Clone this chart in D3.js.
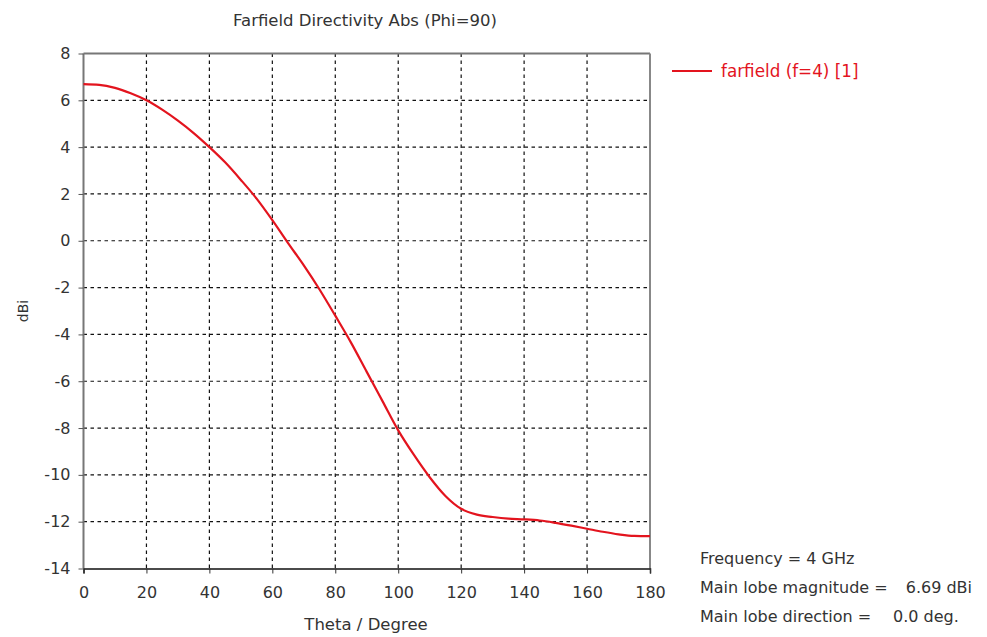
<!DOCTYPE html>
<html>
<head>
<meta charset="utf-8">
<script src="https://cdn.jsdelivr.net/npm/d3@7"></script>
<style>
  html, body { margin: 0; padding: 0; background: #fff; }
  svg { display: block; }
  text { font-family: "DejaVu Sans", sans-serif; fill: #333; }
</style>
</head>
<body>
<svg id="chart" width="987" height="637"></svg>
<script>
// Farfield directivity cut at Phi = 90, f = 4 GHz
const theta = [0, 5, 10, 15, 20, 25, 30, 35, 40, 45, 50, 55, 60, 65, 70, 75, 80, 85, 90,
               95, 100, 105, 110, 115, 120, 125, 130, 135, 140, 145, 150, 155, 160, 165, 170, 175, 180];
const directivity = [6.69, 6.66, 6.53, 6.3, 6.0, 5.6, 5.13, 4.6, 4.0, 3.35, 2.6, 1.8, 0.88, -0.1, -1.05,
                     -2.08, -3.2, -4.35, -5.6, -6.85, -8.1, -9.15, -10.1, -10.9, -11.45, -11.7, -11.8,
                     -11.87, -11.9, -11.95, -12.05, -12.17, -12.3, -12.43, -12.54, -12.61, -12.62];
const xTicks = [0, 20, 40, 60, 80, 100, 120, 140, 160, 180];
const yTicks = [8, 6, 4, 2, 0, -2, -4, -6, -8, -10, -12, -14];
const seriesName = "farfield (f=4) [1]";
const infoLines = [
  ["Frequency = 4 GHz", ""],
  ["Main lobe magnitude =", "6.69 dBi"],
  ["Main lobe direction =", "0.0 deg."]
];

(function draw() {
  const svg = d3.select("#chart");
  const pl = 83.5, pr = 650, pt = 53.5, pb = 568.5;
  const x = d3.scaleLinear().domain([0, 180]).range([pl, pr]);
  const y = d3.scaleLinear().domain([-14, 8]).range([pb, pt]);
  const red = "#e3141e";
  const plain = d => String(d);   // hyphen-minus labels

  // title
  svg.append("text").attr("x", 365).attr("y", 26).attr("text-anchor", "middle")
    .style("font-size", "16.5px").text("Farfield Directivity Abs (Phi=90)");

  // dashed grid
  const grid = svg.append("g").attr("stroke", "#111").attr("stroke-width", 1.2)
    .attr("stroke-dasharray", "3.5,3.5");
  grid.selectAll("line.v").data(xTicks.filter(d => d > 0 && d < 180)).join("line").attr("class", "v")
    .attr("x1", d => x(d)).attr("x2", d => x(d)).attr("y1", pt).attr("y2", pb);
  grid.selectAll("line.h").data(yTicks.filter(d => d > -14 && d < 8)).join("line").attr("class", "h")
    .attr("x1", pl).attr("x2", pr).attr("y1", d => y(d)).attr("y2", d => y(d));

  // frame
  svg.append("line").attr("x1", pl).attr("x2", pr).attr("y1", pt).attr("y2", pt)
    .attr("stroke", "#777").attr("stroke-width", 2);
  svg.append("line").attr("x1", pr).attr("x2", pr).attr("y1", pt).attr("y2", pb)
    .attr("stroke", "#888").attr("stroke-width", 2);
  svg.append("line").attr("x1", pl).attr("x2", pl).attr("y1", pt).attr("y2", pb)
    .attr("stroke", "#777").attr("stroke-width", 2);

  // axes
  const xAxis = d3.axisBottom(x).tickValues(xTicks).tickFormat(plain).tickSize(5).tickPadding(13);
  const gx = svg.append("g").attr("transform", `translate(0,${pb})`).call(xAxis);
  gx.select(".domain").attr("stroke", "#111").attr("stroke-width", 1.5);
  gx.selectAll(".tick line").attr("stroke", "#333");
  gx.selectAll(".tick text").style("font-size", "16px").style("font-family", "DejaVu Sans").attr("fill", "#333");

  const yAxis = d3.axisLeft(y).tickValues(yTicks).tickFormat(plain).tickSize(5).tickPadding(8);
  const gy = svg.append("g").attr("transform", `translate(${pl},0)`).call(yAxis);
  gy.select(".domain").remove();
  gy.selectAll(".tick line").attr("stroke", "#555");
  gy.selectAll(".tick text").style("font-size", "16px").style("font-family", "DejaVu Sans").attr("fill", "#333");

  // axis titles
  svg.append("text").attr("x", 366).attr("y", 630).attr("text-anchor", "middle")
    .style("font-size", "16.5px").text("Theta / Degree");
  svg.append("text").attr("transform", "translate(28,311) rotate(-90)").attr("text-anchor", "middle")
    .style("font-size", "14px").text("dBi");

  // curve
  const line = d3.line().x((d, i) => x(theta[i])).y(d => y(d)).curve(d3.curveMonotoneX);
  svg.append("path").datum(directivity).attr("d", line)
    .attr("fill", "none").attr("stroke", red).attr("stroke-width", 2.2);

  // legend
  svg.append("line").attr("x1", 672).attr("x2", 712).attr("y1", 71).attr("y2", 71)
    .attr("stroke", red).attr("stroke-width", 2.2);
  svg.append("text").attr("x", 721).attr("y", 77).style("font-size", "16.8px")
    .style("fill", red).text(seriesName);

  // summary block
  const info = svg.append("g");
  infoLines.forEach((l, i) => {
    info.append("text").attr("x", 700).attr("y", 564 + i * 29).style("font-size", "16px").text(l[0]);
  });
  info.append("text").attr("x", 972).attr("y", 593).attr("text-anchor", "end")
    .style("font-size", "16px").text(infoLines[1][1]);
  info.append("text").attr("x", 893).attr("y", 622)
    .style("font-size", "16px").text(infoLines[2][1]);
})();
</script>
</body>
</html>
